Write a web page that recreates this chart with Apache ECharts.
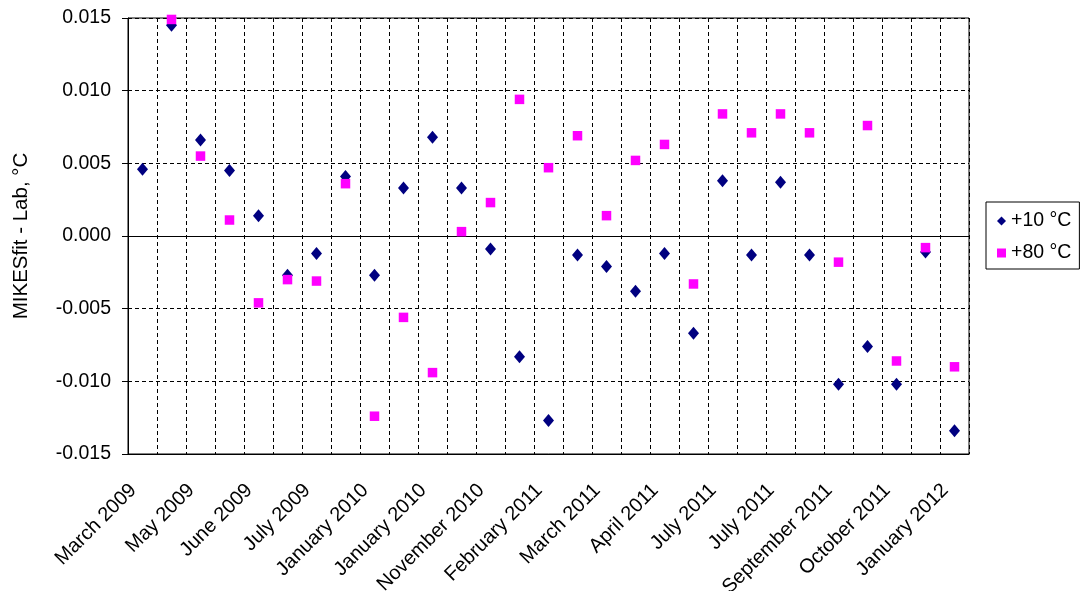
<!DOCTYPE html>
<html><head><meta charset="utf-8">
<script src="https://cdn.jsdelivr.net/npm/echarts@6/dist/echarts.min.js"></script>
<style>html,body{margin:0;padding:0;background:#fff}#c{width:1080px;height:591px}</style>
</head><body><div id="c"></div>
<script>
// Tick labels shown under every other category (29 categories in total)
const tickLabels = ['March 2009','May 2009','June 2009','July 2009','January 2010','January 2010','November 2010','February 2011','March 2011','April 2011','July 2011','July 2011','September 2011','October 2011','January 2012'];
const categoryCount = 29;
const plus10 = [0.0046, 0.0145, 0.0066, 0.0045, 0.0014, -0.0027, -0.0012, 0.0041, -0.0027, 0.0033, 0.0068, 0.0033, -0.0009, -0.0083, -0.0127, -0.0013, -0.0021, -0.0038, -0.0012, -0.0067, 0.0038, -0.0013, 0.0037, -0.0013, -0.0102, -0.0076, -0.0102, -0.0011, -0.0134];
const plus80 = [null, 0.0149, 0.0055, 0.0011, -0.0046, -0.0030, -0.0031, 0.0036, -0.0124, -0.0056, -0.0094, 0.0003, 0.0023, 0.0094, 0.0047, 0.0069, 0.0014, 0.0052, 0.0063, -0.0033, 0.0084, 0.0071, 0.0084, 0.0071, -0.0018, 0.0076, -0.0086, -0.0008, -0.0090];
const seriesNames = ['+10 °C', '+80 °C'];
const yTitle = 'MIKESfit - Lab, °C';
const yMin = -0.015, yMax = 0.015, yStep = 0.005;

const categories = [];
for (let i = 0; i < categoryCount; i++) categories.push(i % 2 === 0 ? tickLabels[i / 2] : '');

const FONT = "'Liberation Sans', Arial, sans-serif";
const chart = echarts.init(document.getElementById('c'), null, {renderer: 'canvas'});
chart.setOption({
  animation: false,
  backgroundColor: '#fff',
  textStyle: {fontFamily: FONT},
  grid: {left: 128, right: 111, top: 18, bottom: 137, containLabel: false, outerBoundsMode: 'none',
         show: true, borderColor: '#000', borderWidth: 1, backgroundColor: 'transparent'},
  legend: {
    orient: 'vertical', left: 986, top: 202,
    padding: [9, 8, 6, 11], itemGap: 12, itemWidth: 9, itemHeight: 9,
    borderColor: '#000', borderWidth: 1, backgroundColor: '#fff',
    textStyle: {fontSize: 19.5, color: '#000', fontFamily: FONT},
    data: seriesNames
  },
  xAxis: {
    type: 'category', data: categories, boundaryGap: true,
    axisLine: {show: true, onZero: false, lineStyle: {color: '#000', width: 1}},
    axisTick: {show: false},
    axisLabel: {interval: 0, rotate: 45, margin: 24, padding: [0, 13, 0, 0], fontSize: 20, color: '#000', fontFamily: FONT},
    splitLine: {show: true, interval: 0, lineStyle: {color: '#000', type: [4, 3], width: 1}}
  },
  yAxis: {
    type: 'value', min: yMin, max: yMax, interval: yStep,
    name: yTitle, nameLocation: 'middle', nameGap: 96, nameRotate: 90,
    nameTextStyle: {fontSize: 20.5, color: '#000', fontFamily: FONT},
    axisLine: {show: true, lineStyle: {color: '#000', width: 1}},
    axisTick: {show: true, length: 6, lineStyle: {color: '#000'}},
    axisLabel: {margin: 17, fontSize: 19.5, color: '#000', fontFamily: FONT, formatter: v => v.toFixed(3)},
    splitLine: {show: true, lineStyle: {color: '#000', type: [4, 3], width: 1}}
  },
  series: [
    {
      name: seriesNames[0], type: 'scatter', data: plus10, symbol: 'diamond', symbolSize: [11, 13],
      itemStyle: {color: '#000080', opacity: 1}, z: 3,
      markLine: {silent: true, symbol: 'none', label: {show: false}, lineStyle: {color: '#000', type: 'solid', width: 1}, data: [{yAxis: 0}], z: 1}
    },
    {
      name: seriesNames[1], type: 'scatter', data: plus80.map(v => v === null ? '-' : v), symbol: 'rect', symbolSize: 9.5,
      itemStyle: {color: '#FF00FF', opacity: 1}, z: 4
    }
  ]
});
</script></body></html>
